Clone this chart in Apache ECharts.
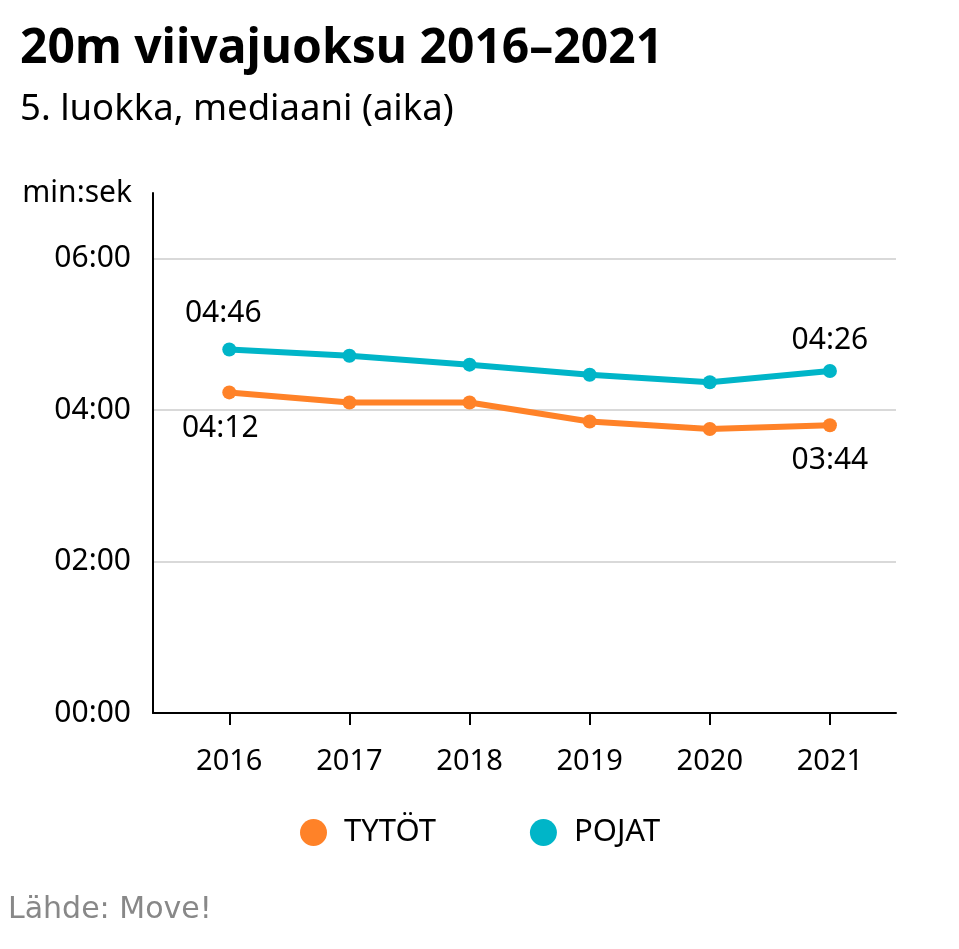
<!DOCTYPE html>
<html><head><meta charset="utf-8">
<script src="https://cdn.jsdelivr.net/npm/echarts@6/dist/echarts.min.js"></script>
<style>html,body{margin:0;padding:0;background:#fff}#c{width:959px;height:949px}</style>
</head><body><div id="c"></div>
<script>
// Data (values in seconds, displayed as mm:ss)
const years = [2016, 2017, 2018, 2019, 2020, 2021];
const tytot = [254, 246, 246, 231, 225, 228];
const pojat = [288, 283, 276, 268, 262, 271];
const yTicks = [0, 120, 240, 360];
const tytotLabels = ['04:12', '', '', '', '', '03:44'];
const pojatLabels = ['04:46', '', '', '', '', '04:26'];

const FONT = 'Noto Sans';
const ORANGE = '#ff8228';
const TEAL = '#00b5c8';

function fmt(v) {
  const m = Math.floor(v / 60), s = Math.round(v % 60);
  return String(m).padStart(2, '0') + ':' + String(s).padStart(2, '0');
}

function build(vals, labels, pos, dists, offsets) {
  return years.map((y, i) => {
    const item = { value: [y, vals[i]] };
    if (labels[i]) {
      item.label = {
        show: true, position: pos, distance: dists[i], offset: offsets[i],
        formatter: labels[i], fontSize: 30, fontFamily: FONT, color: '#000'
      };
    }
    return item;
  });
}

const chart = echarts.init(document.getElementById('c'), null, { renderer: 'canvas' });
chart.setOption({
  animation: false,
  backgroundColor: '#fff',
  textStyle: { fontFamily: FONT },
  title: [
    { text: '20m viivajuoksu 2016–2021', left: 20, top: 25, padding: 0,
      textStyle: { fontSize: 48, fontWeight: 'bold', color: '#000', fontFamily: FONT } },
    { text: '5. luokka, mediaani (aika)', left: 20, top: 91, padding: 0,
      textStyle: { fontSize: 36.5, fontWeight: 'normal', color: '#000', fontFamily: FONT } },
    { text: 'Lähde: Move!', left: 8, top: 895, padding: 0,
      textStyle: { fontSize: 30, fontWeight: 'normal', color: '#888', fontFamily: 'DejaVu Sans' } }
  ],
  legend: {
    left: 300, top: 817, padding: 0, icon: 'circle', itemWidth: 27, itemHeight: 27, itemGap: 94,
    textStyle: { fontSize: 31, color: '#000', fontFamily: FONT, padding: [0, 0, 0, 12] },
    data: ['TYTÖT', 'POJAT']
  },
  grid: { left: 153, right: 63, top: 193, bottom: 236, containLabel: false },
  xAxis: {
    type: 'value', min: 2015.365, max: 2021.55,
    axisLine: { show: true, lineStyle: { color: '#000', width: 2 } },
    axisTick: { show: true, customValues: years, length: 12, lineStyle: { color: '#000', width: 2 } },
    axisLabel: { customValues: years, formatter: v => String(v), margin: 34, fontSize: 29, color: '#000', fontFamily: FONT },
    splitLine: { show: false }
  },
  yAxis: {
    type: 'value', min: 0, max: 412,
    name: 'min:sek', nameLocation: 'end', nameGap: 0,
    nameTextStyle: { fontSize: 30, color: '#000', fontFamily: FONT, align: 'right', verticalAlign: 'middle', padding: [0, 21, 0, 0] },
    axisLine: { show: true, lineStyle: { color: '#000', width: 2 } },
    axisTick: { show: false, customValues: yTicks },
    axisLabel: { customValues: yTicks, formatter: fmt, margin: 22, fontSize: 30, color: '#000', fontFamily: FONT },
    splitLine: { show: true, lineStyle: { color: '#d9d9d9', width: 2 } }
  },
  series: [
    { name: 'TYTÖT', type: 'line', color: ORANGE, symbol: 'circle', symbolSize: 14,
      lineStyle: { width: 6, color: ORANGE }, itemStyle: { color: ORANGE },
      data: build(tytot, tytotLabels, 'bottom', [14, 0, 0, 0, 0, 13], [[-9, 0], 0, 0, 0, 0, [0, 0]]) },
    { name: 'POJAT', type: 'line', color: TEAL, symbol: 'circle', symbolSize: 14,
      lineStyle: { width: 6, color: TEAL }, itemStyle: { color: TEAL },
      data: build(pojat, pojatLabels, 'top', [14, 0, 0, 0, 0, 9], [[-6, 0], 0, 0, 0, 0, [0, 0]]) }
  ]
});
</script></body></html>
